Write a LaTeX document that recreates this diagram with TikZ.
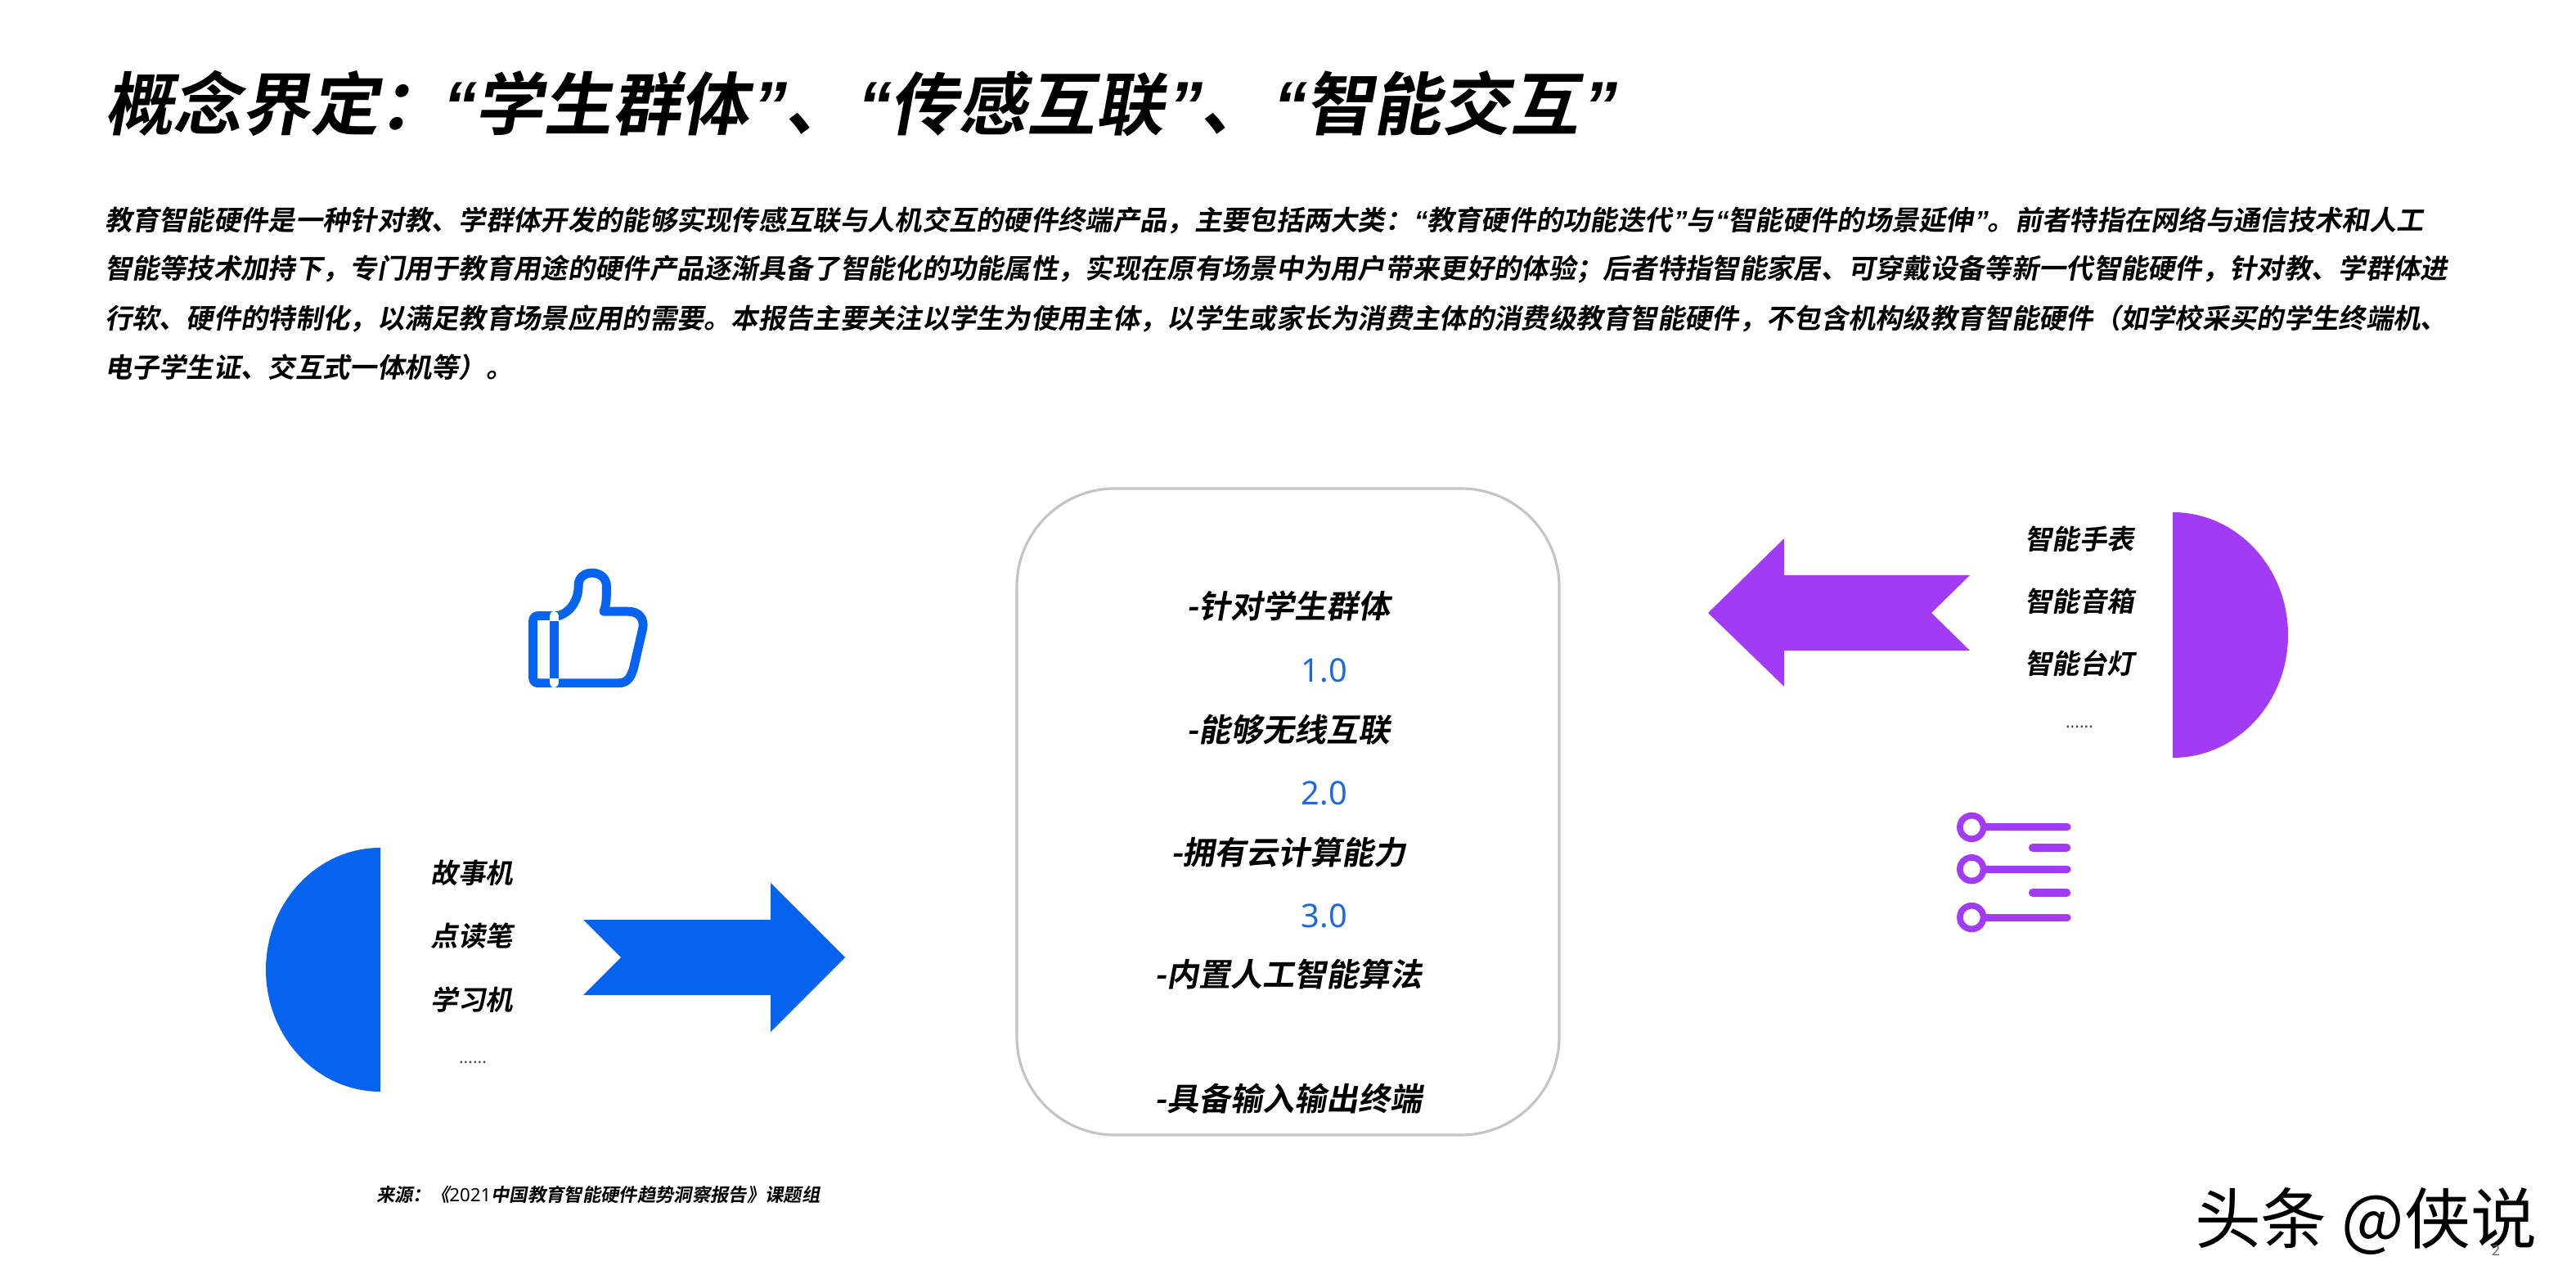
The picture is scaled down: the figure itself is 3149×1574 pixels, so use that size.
\documentclass[tikz,border=0pt]{standalone}
\usepackage{fontspec}
\newfontfamily\cjkbold[FakeSlant=0.18]{Noto Sans CJK SC Bold}
\newfontfamily\cjkplain{Noto Sans CJK SC}
\newfontfamily\numfont{Noto Sans}
\newfontfamily\latinbold[FakeSlant=0.18]{Liberation Sans}
\definecolor{bluefill}{HTML}{0563EE}
\definecolor{purplefill}{HTML}{A23BF5}
\definecolor{numblue}{HTML}{1F6ADB}
\definecolor{boxgray}{HTML}{C4C4C4}
\def\qwidth{0.53}
\newcommand{\qo}{\makebox[\qwidth em][c]{\latinbold\bfseries “}}
\newcommand{\qc}{\makebox[\qwidth em][c]{\latinbold\bfseries ”}}
\tikzset{
  every node/.style={inner sep=0pt,outer sep=0pt},
  bodyline/.style={anchor=west,font=\cjkbold\fontsize{9.47}{11}\selectfont},
  boxline/.style={font=\cjkbold\fontsize{11.1}{13}\selectfont},
  boxnum/.style={text=numblue,font=\numfont\fontsize{11.3}{13}\selectfont},
  itemlabel/.style={font=\cjkbold\fontsize{9.5}{11}\selectfont},
  dotslabel/.style={text=black!70,font=\numfont\fontsize{6}{8}\selectfont}
}
\begin{document}
\begin{tikzpicture}[x=0.01cm,y=-0.01cm]
\fill [white] (0,0) rectangle (3149,1574);
\useasboundingbox (0,0) rectangle (3149,1574);
% heading and paragraph
\node [anchor=west,font=\cjkbold\fontsize{23.8}{27}\selectfont] (title) at (128,127) {概念界定：\hspace{-0.12em}\qo 学生群体\qc 、\qo 传感互联\qc 、\qo 智能交互\qc};
\node [bodyline] (para1) at (128,269) {教育智能硬件是一种针对教、学群体开发的能够实现传感互联与人机交互的硬件终端产品，主要包括两大类：\qo 教育硬件的功能迭代\qc 与\qo 智能硬件的场景延伸\qc 。前者特指在网络与通信技术和人工};
\node [bodyline] (para2) at (128,329) {智能等技术加持下，专门用于教育用途的硬件产品逐渐具备了智能化的功能属性，实现在原有场景中为用户带来更好的体验；后者特指智能家居、可穿戴设备等新一代智能硬件，针对教、学群体进};
\node [bodyline] (para3) at (128,389) {行软、硬件的特制化，以满足教育场景应用的需要。本报告主要关注以学生为使用主体，以学生或家长为消费主体的消费级教育智能硬件，不包含机构级教育智能硬件（如学校采买的学生终端机、};
\node [bodyline] (para4) at (128,449) {电子学生证、交互式一体机等）。};
% centre box
\draw [boxgray,line width=0.9pt,rounded corners=1.2cm] (1243,597) rectangle (1906,1387);
\node [boxline] (tagone) at (1575,741) {-针对学生群体};
\node [boxnum] (numone) at (1619,819) {1.0};
\node [boxline] (tagtwo) at (1575,892) {-能够无线互联};
\node [boxnum] (numtwo) at (1619,969) {2.0};
\node [boxline] (tagthree) at (1575,1042) {-拥有云计算能力};
\node [boxnum] (numthree) at (1619,1119) {3.0};
\node [boxline] (tagfour) at (1575,1191) {-内置人工智能算法};
\node [boxline] (tagfive) at (1575,1343) {-具备输入输出终端};
% left half disc and arrow
\fill [bluefill] (465,1036) arc (270:90:140 and 149) -- cycle;
\fill [bluefill] (713,1124) -- (759,1170) -- (713,1216) -- (942,1216) -- (942,1261) -- (1033,1170) -- (942,1079) -- (942,1124) -- cycle;
\node [itemlabel] (story) at (577,1067) {故事机};
\node [itemlabel] (pen) at (577,1144) {点读笔};
\node [itemlabel] (study) at (577,1222) {学习机};
\node [dotslabel] (dotsleft) at (578,1298) {......};
% right half disc and arrow
\fill [purplefill] (2656,626) arc (270:450:141 and 150) -- cycle;
\fill [purplefill] (2408,703) -- (2361,749) -- (2408,795) -- (2181,795) -- (2181,839) -- (2088,749) -- (2181,658) -- (2181,703) -- cycle;
\node [itemlabel] (watch) at (2542,659) {智能手表};
\node [itemlabel] (speaker) at (2542,735) {智能音箱};
\node [itemlabel] (lamp) at (2542,811) {智能台灯};
\node [dotslabel] (dotsright) at (2542,888) {......};
% thumb icon
\begin{scope}[shift={(600,660)},x=0.00333cm,y=-0.00333cm]
\draw [bluefill,line width=3.1pt,line join=round] (250,278) .. controls (300,260) and (322,215) .. (322,165) .. controls (322,105) and (425,105) .. (425,170) .. controls (425,210) and (425,235) .. (415,262) -- (505,262) .. controls (545,262) and (565,290) .. (558,325) -- (528,455) .. controls (518,505) and (500,525) .. (470,525) -- (175,525) .. controls (162,525) and (155,518) .. (155,505) -- (155,298) .. controls (155,285) and (162,278) .. (175,278) -- cycle;
\draw [white,line width=3.1pt,line cap=round] (232,278) -- (232,525);
\draw [bluefill,line width=3.1pt] (232,297) -- (232,508);
\end{scope}
% list icon
\begin{scope}[shift={(2350,960)},x=0.00333cm,y=-0.00333cm]
\foreach \yy in {153,307,484} {
  \draw [purplefill,line width=2.6pt,line cap=round] (225,\yy) -- (532,\yy);
  \draw [purplefill,line width=2.2pt,fill=white] (181,\yy) circle (43);
}
\foreach \yy in {228,393}
  \draw [purplefill,line width=2.8pt,line cap=round] (405,\yy) -- (530,\yy);
\end{scope}
% source and corner marks
\node [anchor=west,font=\cjkbold\fontsize{6.35}{8}\selectfont] (source) at (460,1460) {来源：《{\numfont 2021}中国教育智能硬件趋势洞察报告》课题组};
\node [anchor=west,font=\cjkplain\fontsize{23}{27}\selectfont] (mark) at (2683,1492) {头条 @侠说};
\node [text=black!60,font=\numfont\fontsize{5}{6}\selectfont] (pagenum) at (3051,1528) {2};
\end{tikzpicture}
\end{document}
